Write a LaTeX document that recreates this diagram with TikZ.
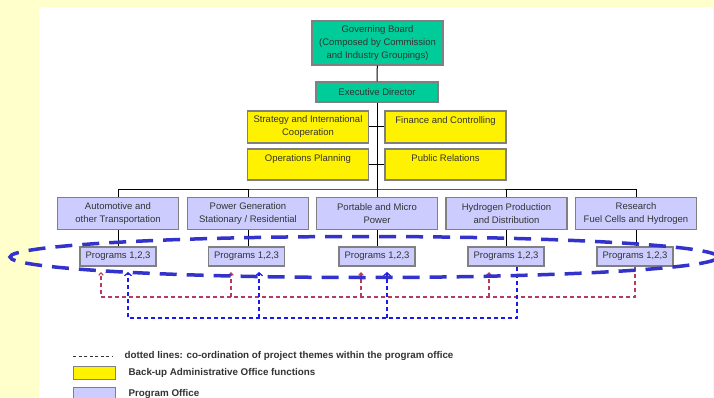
\documentclass[tikz,border=0pt]{standalone}
\usepackage{fontspec}
\setmainfont{Liberation Sans}
\usetikzlibrary{arrows.meta}
\definecolor{pagebg}{HTML}{FFFFCC}
\definecolor{boardteal}{HTML}{00CC99}
\definecolor{officelilac}{HTML}{CCCCFF}
\definecolor{boxgray}{HTML}{808080}
\definecolor{linkred}{HTML}{B83A5E}
\definecolor{linkblue}{HTML}{1A1AF0}
\definecolor{ringblue}{HTML}{3333CC}
\definecolor{textgray}{HTML}{333333}
\tikzset{
	orgbox/.style = {draw = boxgray, line width = 1.2pt, inner sep = 1pt, align = center,
		text = textgray, font = \fontsize{9.5}{13}\selectfont},
	boardbox/.style = {orgbox, fill = boardteal},
	adminbox/.style = {orgbox, fill = yellow, minimum width = 121pt, minimum height = 31pt},
	officebox/.style = {orgbox, fill = officelilac, minimum width = 121pt, minimum height = 32pt},
	progbox/.style = {orgbox, fill = officelilac, minimum width = 76pt, minimum height = 19pt},
	tree/.style = {draw = black, line width = 1pt},
	redlink/.style = {draw = linkred, line width = 1.1pt, dash pattern = on 4pt off 3pt},
	bluelink/.style = {draw = linkblue, line width = 1.2pt, dash pattern = on 4pt off 3pt},
	legendtext/.style = {anchor = west, text = textgray, font = \fontsize{9.8}{12}\selectfont\bfseries}
}

\begin{document}
\begin{tikzpicture}[x = 1pt, y = -1pt]

	\useasboundingbox (0,0) rectangle (714,398);
	\fill[pagebg] (0,0) rectangle (714,398);
	\fill[white] (39,7) rectangle (713,398);

	\node[boardbox, minimum width = 131pt, minimum height = 44pt] (gov) at (377.5,43)
		{Governing Board\\(Composed by Commission\\and Industry Groupings)};
	\node[boardbox, minimum width = 122pt, minimum height = 20pt] (exec) at (377,92) {Executive Director};

	\node[adminbox, minimum height = 32pt] (strat) at (308,127) {Strategy and International\\Cooperation};
	\node[adminbox, minimum height = 32pt] (fin) at (445.5,127) {Finance and Controlling\\~};
	\node[adminbox] (ops) at (308,164.5) {Operations Planning\\~};
	\node[adminbox] (pr) at (445.5,164.5) {Public Relations\\~};

	\coordinate (bus) at (377,189);

	\node[officebox] (off1) at (118,213.5) {Automotive and\\other Transportation};
	\node[officebox] (off2) at (248,213.5) {Power Generation\\Stationary / Residential};
	\node[officebox] (off3) at (377,213.5) {Portable and Micro\\Power};
	\node[officebox] (off4) at (506.5,213.5) {Hydrogen Production\\and Distribution};
	\node[officebox] (off5) at (636,213.5) {Research\\Fuel Cells and Hydrogen};

	\node[progbox] (prog1) at (118,256.5) {Programs 1,2,3};
	\node[progbox] (prog2) at (246.5,256.5) {Programs 1,2,3};
	\node[progbox] (prog3) at (377,256.5) {Programs 1,2,3};
	\node[progbox] (prog4) at (506,256.5) {Programs 1,2,3};
	\node[progbox] (prog5) at (635,256.5) {Programs 1,2,3};

	\draw[tree] (gov) -- (exec);
	\draw[tree] (exec) -- (bus);
	\draw[tree] (strat) -- (fin);
	\draw[tree] (ops) -- (pr);
	\draw[tree] (off1.north) |- (bus) -| (off5.north);
	\draw[tree] (off2.north) -- (off2.north |- bus);
	\draw[tree] (off4.north) -- (off4.north |- bus);
	\draw[tree] (bus) -- (off3.north);

	\draw[tree] (off1) -- (prog1);
	\draw[tree] (off2.south) -- (off2.south |- prog2.north);
	\draw[tree] (off3) -- (prog3);
	\draw[tree] (off4.south) -- (off4.south |- prog4.north);
	\draw[tree] (off5.south) -- (off5.south |- prog5.north);

	\coordinate (redline) at (0,297);
	\coordinate (blueline) at (0,318);
	\coordinate (r1) at (101,272);
	\coordinate (r2) at (231,272);
	\coordinate (r3) at (361,272);
	\coordinate (r4) at (489,272);
	\coordinate (b1) at (128,272);
	\coordinate (b2) at (259,272);
	\coordinate (b3) at (387,272);
	\coordinate (b4) at (517,272);

	\draw[redlink, -{Straight Barb[length=2.5pt, width=4.5pt]}] (prog5.south) |- (r1 |- redline) -- (r1);
	\foreach \r in {r2, r3, r4}
		\draw[redlink, -{Straight Barb[length=2.5pt, width=4.5pt]}] (\r |- redline) -- (\r);

	\draw[bluelink, -{Straight Barb[length=3pt, width=7pt]}] (prog4.south -| b4) |- (b1 |- blueline) -- (b1);
	\foreach \b in {b2, b3}
		\draw[bluelink, -{Straight Barb[length=3pt, width=7pt]}] (\b |- blueline) -- (\b);

	\draw[ringblue, line width = 3.5pt, dash pattern = on 17pt off 10pt] (364,257) ellipse [x radius = 354pt, y radius = 20.5pt];

	\coordinate (legend) at (73,356);
	\draw[textgray, line width = 0.8pt, dash pattern = on 3pt off 2.5pt] (legend) -- ++(40,0) node[legendtext, xshift = 8pt] (leg1)
		{dotted lines: co-ordination of project themes within the program office};
	\node[draw = boxgray, line width = 1pt, fill = yellow, minimum width = 42pt, minimum height = 13pt, anchor = north west, inner sep = 0pt] (key1) at (73,366) {};
	\node[legendtext, right = 9pt] (leg2) at (key1.east) {Back-up Administrative Office functions};
	\node[draw = boxgray, line width = 1pt, fill = officelilac, minimum width = 42pt, minimum height = 13pt, anchor = north west, inner sep = 0pt] (key2) at (73,387) {};
	\node[legendtext, right = 9pt] (leg3) at (key2.east) {Program Office};

\end{tikzpicture}
\end{document}
